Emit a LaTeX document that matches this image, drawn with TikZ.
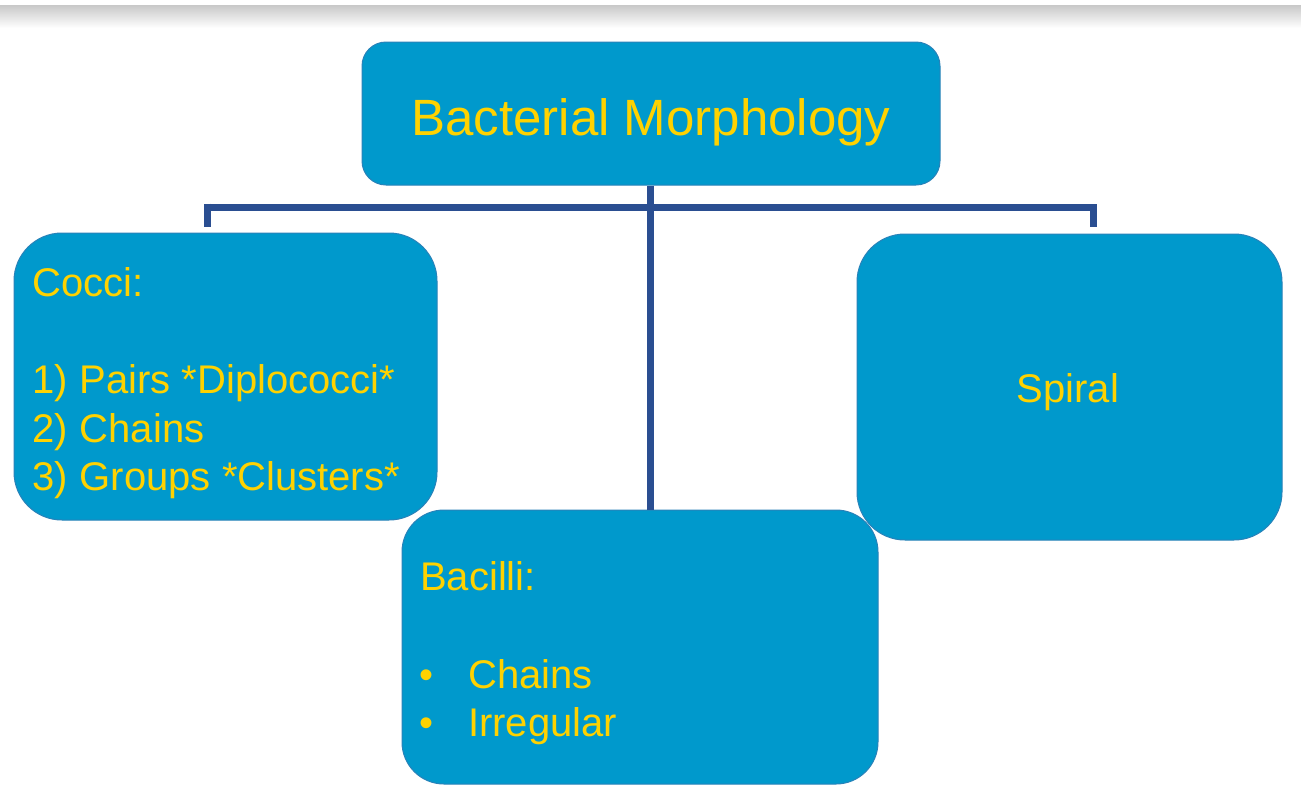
\documentclass[tikz,border=0pt]{standalone}
\usepackage{fontspec}
\setmainfont{Liberation Sans}
\definecolor{boxblue}{RGB}{0,153,204}
\definecolor{boxedge}{RGB}{40,130,185}
\definecolor{linkblue}{RGB}{42,78,145}
\definecolor{txtyellow}{RGB}{255,210,0}
\definecolor{bandgray}{RGB}{200,200,200}
\tikzset{
  morphbox/.style={draw=boxedge, line width=1pt, fill=boxblue, rectangle, inner sep=0pt},
  link/.style={draw=linkblue, line width=7pt},
  txt/.style={text=txtyellow, inner sep=0pt, font=\fontsize{40}{48}\selectfont},
}
\begin{document}
\begin{tikzpicture}[x=1pt,y=-1pt]
\useasboundingbox (0,0) rectangle (1301,785);
\fill[white] (0,0) rectangle (1301,785);
% top shadow band
\shade[top color=bandgray, bottom color=white] (0,5) rectangle (1301,28);
% boxes
\node[morphbox, rounded corners=24pt, minimum width=578pt, minimum height=143pt] (top) at (651,113.5) {};
\node[morphbox, rounded corners=48pt, minimum width=423pt, minimum height=287pt] (cocci) at (225.5,376.5) {};
\node[morphbox, rounded corners=48pt, minimum width=425pt, minimum height=306pt] (spiral) at (1069.5,387) {};
% connectors
\coordinate (hj) at (650,207);
\coordinate (hl) at (207,207);
\coordinate (hr) at (1093,207);
\draw[link] (top.south -| hj) -- (hj);
\draw[link] (hl |- cocci.north) ++(0,-6) -- (hl) -- (hr) -- ++(0,20);
\node[morphbox, rounded corners=42pt, minimum width=476pt, minimum height=274pt] (bacilli) at (640,647) {};
\draw[link] (hj) -- (hj |- bacilli.north);
\draw[link, line cap=butt] (hl) ++(0,-3.5) -- ++(0,23.5);
% texts
\node[txt, font=\fontsize{51}{60}\selectfont, anchor=base] (ttop) at (651,135) {Bacterial Morphology};
\node[txt, anchor=base west] (t1) at (32,296) {Cocci:};
\node[txt, anchor=base west] (t2) at (32,393) {1)\hspace{12pt}Pairs *Diplococci*};
\node[txt, anchor=base west] (t3) at (32,442) {2)\hspace{12pt}Chains};
\node[txt, anchor=base west] (t4) at (32,490) {3)\hspace{12pt}Groups *Clusters*};
\node[txt, anchor=base] (tsp) at (1068,402) {Spiral};
\node[txt, anchor=base west] (b1) at (420,590) {Bacilli:};
\node[txt, anchor=base west] (b2) at (419,688) {\textbullet};
\node[txt, anchor=base west] (b3) at (468,688) {Chains};
\node[txt, anchor=base west] (b4) at (419,736) {\textbullet};
\node[txt, anchor=base west] (b5) at (468,736) {Irregular};
\end{tikzpicture}
\end{document}
